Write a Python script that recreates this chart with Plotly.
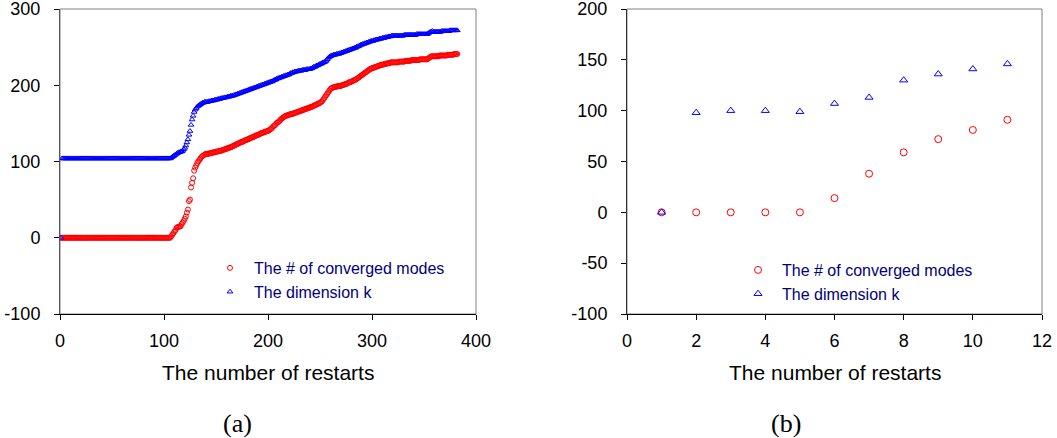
import numpy as np
import plotly.graph_objects as go

# ---------------- Panel (a): run-length data ----------------
conv_a_vals = [0,
               2, 4, 6, 8, 10, 13, 14, 15, 18, 20, 22, 25, 28, 33, 37, 48, 50, 66, 72, 78, 88, 92, 95,
               98, 100, 102, 104, 106, 107, 108, 109,
               110, 111, 112, 113, 114, 115, 116, 117, 118,
               119, 120, 121, 122, 123, 124, 125, 126, 127, 128, 129, 130, 131, 132, 133, 134, 135, 136,
               137, 138, 139, 140, 141, 142,
               143, 144, 146, 147, 148, 150, 151, 152, 153, 155, 156, 157, 158, 159, 160, 161, 162, 163,
               163, 164, 165, 166, 167, 168, 169, 170, 171, 172, 173, 174, 175, 176, 177,
               178, 179, 181, 183, 185, 187, 189, 191, 193, 195, 196, 197,
               197, 198, 199, 200,
               201, 202, 203, 204, 205, 206, 207, 208,
               209, 210, 211, 212, 213, 214, 215, 216, 217, 218, 219, 220, 221, 222,
               223, 224, 225, 226, 227, 228, 229, 230,
               230, 231, 232, 233, 234,
               235, 236, 237, 238,
               238, 239, 240, 241]
conv_a_reps = [106,
               1, 1, 1, 1, 1, 1, 2, 2, 1, 1, 1, 1, 1, 1, 1, 1, 1, 1, 1, 1, 1, 1, 1,
               1, 1, 1, 1, 1, 1, 1, 1,
               4, 3, 3, 3, 3, 2, 2, 2, 2,
               2, 1, 2, 1, 2, 1, 2, 2, 1, 2, 2, 1, 2, 2, 1, 2, 2, 1,
               2, 2, 2, 2, 1, 1,
               1, 1, 1, 1, 1, 1, 1, 1, 1, 1, 1, 1, 1, 1, 2, 2, 3, 1,
               1, 2, 2, 2, 2, 2, 2, 2, 2, 2, 1, 2, 1, 2, 1,
               1, 1, 1, 1, 1, 1, 1, 1, 1, 1, 1, 1,
               1, 3, 4, 2,
               2, 2, 1, 2, 2, 1, 2, 1,
               1, 1, 1, 1, 1, 1, 1, 1, 1, 1, 1, 1, 1, 2,
               2, 2, 2, 2, 3, 3, 3, 3,
               5, 6, 6, 8, 8,
               1, 1, 1, 2,
               6, 8, 6, 4]

dim_a_vals = [0, 104,
              105, 106, 107, 108, 109, 110, 111, 112, 113, 114, 116, 118, 121, 125, 129, 135, 140, 148,
              155, 160, 165, 168, 170, 172, 173, 174, 175, 176, 177, 178,
              178, 179, 180, 181, 182,
              183, 184, 185, 186, 187, 188,
              189, 190, 191, 192, 193, 194, 195, 196, 197, 198, 199,
              200, 201, 202, 203, 204, 205, 206, 207, 208,
              209, 210, 211, 212, 213, 214, 215, 216, 217,
              217, 218, 219, 220, 221,
              222, 223, 224, 225, 226, 227, 228, 229, 230, 231, 232,
              234, 236, 237, 238, 239,
              239, 240, 241, 242, 243,
              244, 245, 246, 247, 248, 249, 250, 251, 252,
              253, 254, 255, 256, 257, 258,
              259, 260, 261, 262, 263, 264, 265,
              265, 266, 267,
              268, 269, 270, 271,
              270, 271, 272]
dim_a_reps = [1, 105,
              1, 1, 1, 1, 1, 1, 1, 2, 2, 1, 1, 1, 1, 1, 1, 1, 1, 1,
              1, 1, 1, 1, 1, 1, 1, 1, 1, 1, 2, 1,
              3, 3, 3, 3, 3,
              3, 3, 3, 3, 2, 2,
              2, 2, 2, 2, 2, 2, 2, 2, 2, 2, 2,
              2, 2, 2, 2, 2, 2, 1, 2, 1,
              2, 2, 2, 2, 2, 2, 1, 2, 1,
              1, 3, 4, 4, 4,
              2, 1, 2, 1, 2, 1, 2, 1, 2, 1, 1,
              1, 1, 1, 1, 1,
              1, 3, 3, 2, 2,
              2, 2, 2, 2, 2, 2, 1, 2, 1,
              2, 2, 2, 2, 2, 3,
              2, 3, 3, 3, 3, 3, 2,
              10, 12, 11,
              1, 1, 2, 1,
              8, 8, 8]

conv_a = np.repeat(conv_a_vals, conv_a_reps)
dim_a = np.repeat(dim_a_vals, dim_a_reps)
restarts_a = np.arange(1, len(conv_a) + 1)

# ---------------- Panel (b) ----------------
restarts_b = [1, 2, 3, 4, 5, 6, 7, 8, 9, 10, 11]
conv_b = [0, 0, 0, 0, 0, 14, 38, 59, 72, 81, 91]
dim_b = [0, 98, 100, 100, 99, 107, 113, 130, 136, 141, 146]

# ---------------- Tick labels ----------------
xticks_a = [0, 100, 200, 300, 400]
yticks_a = [-100, 0, 100, 200, 300]
xticks_b = [0, 2, 4, 6, 8, 10, 12]
yticks_b = [-100, -50, 0, 50, 100, 150, 200]

name_conv = "The # of converged modes"
name_dim = "The dimension k"

RED = "#FF0000"
BLUE = "#0000FF"
NAVY = "#000080"
FONT = "Liberation Sans, Arial, sans-serif"

fig = go.Figure()

fig.add_trace(go.Scatter(x=restarts_a, y=conv_a, mode="markers", name=name_conv,
                         marker=dict(symbol="circle-open", size=5, color=RED, line=dict(width=1, color=RED)),
                         xaxis="x", yaxis="y", legend="legend"))
fig.add_trace(go.Scatter(x=restarts_a, y=dim_a, mode="markers", name=name_dim,
                         marker=dict(symbol="triangle-up-open", size=5, color=BLUE, line=dict(width=1, color=BLUE)),
                         xaxis="x", yaxis="y", legend="legend"))
fig.add_trace(go.Scatter(x=restarts_b, y=conv_b, mode="markers", name=name_conv,
                         marker=dict(symbol="circle-open", size=7, color=RED, line=dict(width=1, color=RED)),
                         xaxis="x2", yaxis="y2", legend="legend2"))
fig.add_trace(go.Scatter(x=restarts_b, y=dim_b, mode="markers", name=name_dim,
                         marker=dict(symbol="triangle-up-open", size=7, color=BLUE, line=dict(width=1, color=BLUE)),
                         xaxis="x2", yaxis="y2", legend="legend2"))

W, H = 1057, 438
def px_x(p):
    return p / W
def px_y(p):
    return 1 - p / H

dom_y = [px_y(314), px_y(9)]
dom_x1 = [px_x(60), px_x(476)]
dom_x2 = [px_x(627), px_x(1042)]

axis_common = dict(showgrid=False, zeroline=False, showline=True, linewidth=1,
                   ticks="outside", ticklen=5, tickwidth=1, tickcolor="black",
                   automargin=False, ticklabeloverflow="allow",
                   tickfont=dict(family=FONT, size=18, color="black"))

def labels(vals):
    return [str(v) for v in vals]

fig.update_layout(
    width=W, height=H,
    margin=dict(l=0, r=0, t=0, b=0, autoexpand=False),
    paper_bgcolor="white", plot_bgcolor="white",
    xaxis=dict(domain=dom_x1, range=[xticks_a[0], xticks_a[-1]], tickvals=xticks_a, ticktext=labels(xticks_a),
               anchor="y", linecolor="black", ticklabelstandoff=5, **axis_common),
    yaxis=dict(domain=dom_y, range=[yticks_a[0], yticks_a[-1]], tickvals=yticks_a, ticktext=labels(yticks_a),
               anchor="x", linecolor="#555555", ticklabelstandoff=10, **axis_common),
    xaxis2=dict(domain=dom_x2, range=[xticks_b[0], xticks_b[-1]], tickvals=xticks_b, ticktext=labels(xticks_b),
                anchor="y2", linecolor="black", ticklabelstandoff=5, **axis_common),
    yaxis2=dict(domain=dom_y, range=[yticks_b[0], yticks_b[-1]], tickvals=yticks_b, ticktext=labels(yticks_b),
                anchor="x2", linecolor="#333333", ticklabelstandoff=10, **axis_common),
    legend=dict(x=px_x(206), y=px_y(251), xanchor="left", yanchor="top", itemwidth=38,
                bgcolor="rgba(0,0,0,0)", font=dict(family=FONT, size=16, color=NAVY)),
    legend2=dict(x=px_x(734), y=px_y(253), xanchor="left", yanchor="top", itemwidth=38,
                 bgcolor="rgba(0,0,0,0)", font=dict(family=FONT, size=16, color=NAVY)),
    showlegend=True,
)

for xr, yr in (("x domain", "y domain"), ("x2 domain", "y2 domain")):
    fig.add_shape(type="rect", xref=xr, yref=yr, x0=0, x1=1, y0=0, y1=1,
                  line=dict(color="#808080", width=1), layer="below")

annots = [
    dict(text="The number of restarts", x=sum(dom_x1) / 2, y=px_y(372),
         font=dict(family=FONT, size=21, color="black")),
    dict(text="The number of restarts", x=sum(dom_x2) / 2, y=px_y(372),
         font=dict(family=FONT, size=21, color="black")),
    dict(text="(a)", x=px_x(237.5), y=px_y(423),
         font=dict(family="Liberation Serif, Times New Roman, serif", size=26, color="black")),
    dict(text="(b)", x=px_x(786), y=px_y(423),
         font=dict(family="Liberation Serif, Times New Roman, serif", size=26, color="black")),
]
for a in annots:
    fig.add_annotation(xref="paper", yref="paper", xanchor="center", yanchor="middle",
                       showarrow=False, **a)

# remove the browser's default 8px body margin so the figure fills the window exactly
fig.write_html("out.html", config={"displayModeBar": False},
               post_script="document.body.style.margin='0px';")
